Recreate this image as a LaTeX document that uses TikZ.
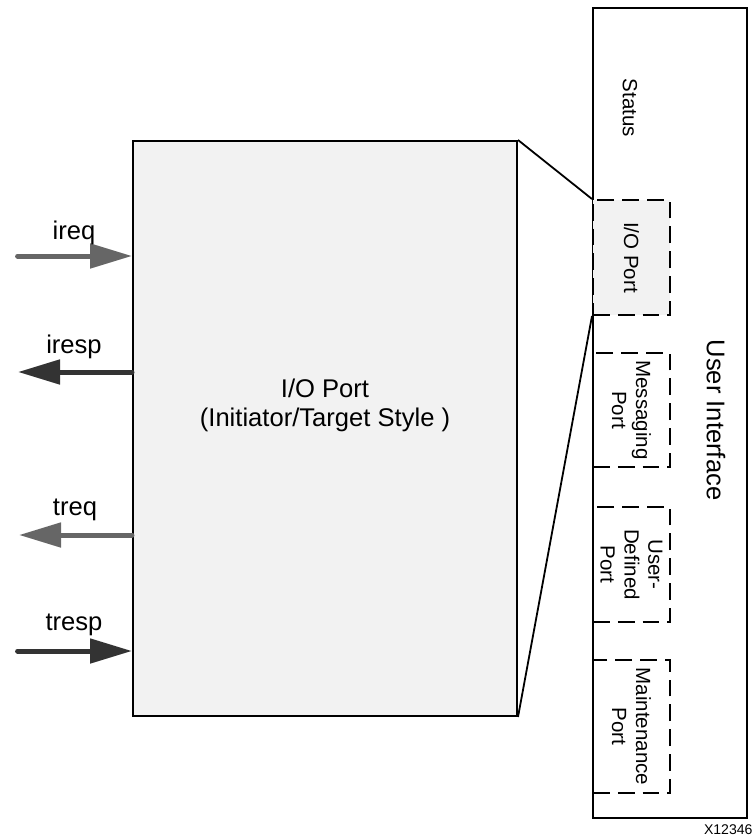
\documentclass[tikz,border=0pt]{standalone}
\usepackage{fontspec}
\setmainfont{Liberation Sans}
\usetikzlibrary{arrows.meta}

\begin{document}
\begin{tikzpicture}

	%DEFINITIONS
	\tikzstyle{every node}=[font=\fontsize{14.6}{17}\selectfont]
	\tikzstyle{core} = [draw, line width=0.05cm, fill={rgb,255:red,242; green,242; blue,242}, minimum width=9.6cm, minimum height=14.375cm]
	\tikzstyle{blank} = [align=center, inner sep=0pt, outer sep=0pt]
	\tikzstyle{panel} = [draw, line width=0.05cm, minimum width=3.85cm, minimum height=20.25cm]
	\tikzstyle{port} = [draw, line width=0.05cm, dash pattern=on 0.42cm off 0.2cm, minimum width=1.925cm, minimum height=2.875cm]
	\tikzstyle{vtext} = [blank, rotate=-90]
	\tikzstyle{sig} = [line width=0.125cm, line cap=round, -{Triangle[length=1.05cm, width=0.6cm]}]
	\tikzstyle{light} = [color={rgb,255:red,102; green,102; blue,102}]
	\tikzstyle{dark} = [color={rgb,255:red,51; green,51; blue,51}]
	\tikzstyle{linea} = [line width=0.045cm]
	\tikzstyle{big} = [font=\fontsize{18.2}{20.6}\selectfont]

	\useasboundingbox (0,0) rectangle (18.825,-20.95);

	%BLOCKS
	\draw(8.125,-10.7125) node[core](io){};
	\draw(8.125,-10.125) node[blank, big](iotext){I/O Port\\(Initiator/Target Style )};

	\draw(16.75,-10.325) node[panel](ui){};
	\draw(15.7875,-6.4375) node[port, fill={rgb,255:red,242; green,242; blue,242}](ioport){};
	\draw(15.7875,-10.25) node[port, minimum height=2.85cm](msgport){};
	\draw(15.7875,-14.1125) node[port](udport){};
	\draw(15.7875,-18.1625) node[port, minimum height=3.325cm](mntport){};

	\draw(15.75,-2.7) node[vtext](status){Status};
	\draw(ioport.center) node[vtext](ioporttext){I/O Port};
	\draw(msgport.center) node[vtext](msgporttext){Messaging\\Port};
	\draw(udport.center) node[vtext](udporttext){User-\\Defined\\Port};
	\draw(mntport.center) node[vtext](mntporttext){Maintenance\\Port};
	\draw(17.9,-10.5) node[vtext, big](uitext){User Interface};

	\draw(17.6,-20.75) node[blank, anchor=west, font=\fontsize{10}{12}\selectfont](fig){X12346};

	%ZOOM LINES
	\draw [linea] (io.north east) -- (ioport.north west);
	\draw [linea] (io.south east) -- (ioport.south west);

	%SIGNALS
	\coordinate (ireq) at (0.44,-6.4);
	\coordinate (iresp) at (0.45,-9.3);
	\coordinate (treq) at (0.475,-13.375);
	\coordinate (tresp) at (0.44,-16.275);

	\draw [sig, light] (ireq) -- (ireq -| io.west);
	\draw [sig, dark] (iresp -| io.west) -- (iresp);
	\draw [sig, light] (treq -| io.west) -- (treq);
	\draw [sig, dark] (tresp) -- (tresp -| io.west);

	\draw(1.85,-5.825) node[blank, big](ireqlbl){ireq};
	\draw(1.85,-8.675) node[blank, big](iresplbl){iresp};
	\draw(1.875,-12.75) node[blank, big](treqlbl){treq};
	\draw(1.85,-15.625) node[blank, big](tresplbl){tresp};
\end{tikzpicture}
\end{document}
